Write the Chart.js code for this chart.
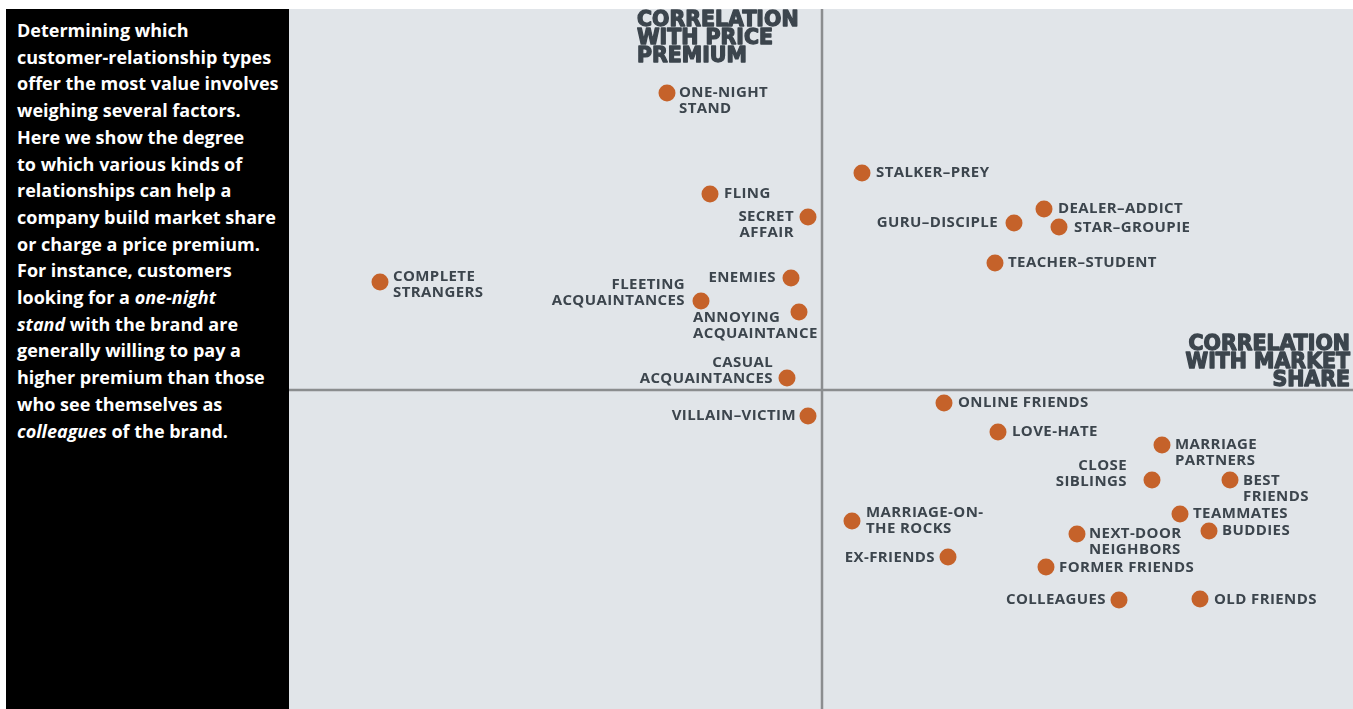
<!DOCTYPE html>
<html>
<head>
<meta charset="utf-8">
<script src="https://cdn.jsdelivr.net/npm/chart.js@4.4.1/dist/chart.umd.min.js"></script>
<style>
    html, body { margin: 0; padding: 0; background: #ffffff; }
    body { width: 1353px; height: 709px; position: relative; overflow: hidden; }
    .intro {
        position: absolute; left: 6px; top: 9px; width: 283px; height: 700px;
        background: #000000; color: #ffffff;
        font-family: "Open Sans", "Noto Sans", sans-serif; font-weight: 700;
        font-size: 18px; line-height: 26.7px;
        box-sizing: border-box; padding: 8px 0 0 11px;
        white-space: nowrap;
    }
    .chart-box {
        position: absolute; left: 289px; top: 9px; width: 1064px; height: 700px;
        background: #e1e5e9;
    }
</style>
</head>
<body>
<div class="intro">
    Determining which<br>
    customer-relationship types<br>
    offer the most value involves<br>
    weighing several factors.<br>
    Here we show the degree<br>
    to which various kinds of<br>
    relationships can help a<br>
    company build market share<br>
    or charge a price premium.<br>
    For instance, customers<br>
    looking for a <i>one-night</i><br>
    <i>stand</i> with the brand are<br>
    generally willing to pay a<br>
    higher premium than those<br>
    who see themselves as<br>
    <i>colleagues</i> of the brand.
</div>
<div class="chart-box"><canvas id="quadrant"></canvas></div>

<script>
// relationship types
const relationships = [
    "ONE-NIGHT\nSTAND", "STALKER–PREY", "FLING", "SECRET\nAFFAIR",
    "DEALER–ADDICT", "GURU–DISCIPLE", "STAR–GROUPIE", "TEACHER–STUDENT",
    "COMPLETE\nSTRANGERS", "ENEMIES", "FLEETING\nACQUAINTANCES", "ANNOYING\nACQUAINTANCE",
    "CASUAL\nACQUAINTANCES", "VILLAIN–VICTIM", "ONLINE FRIENDS", "LOVE-HATE",
    "MARRIAGE\nPARTNERS", "CLOSE\nSIBLINGS", "BEST\nFRIENDS", "TEAMMATES",
    "BUDDIES", "MARRIAGE-ON-\nTHE ROCKS", "NEXT-DOOR\nNEIGHBORS", "EX-FRIENDS",
    "FORMER FRIENDS", "COLLEAGUES", "OLD FRIENDS"
];

// correlation with market share (x)
const marketShare = [
    -1.55, 0.40, -1.12, -0.14,
    2.22, 1.92, 2.37, 1.73,
    -4.42, -0.31, -1.21, -0.23,
    -0.35, -0.14, 1.22, 1.76,
    3.40, 3.30, 4.08, 3.58,
    3.87, 0.30, 2.55, 1.26,
    2.24, 2.97, 3.78
];

// correlation with price premium (y)
const pricePremium = [
    2.97, 2.17, 1.96, 1.73,
    1.81, 1.67, 1.63, 1.27,
    1.08, 1.12, 0.89, 0.78,
    0.12, -0.26, -0.13, -0.42,
    -0.55, -0.90, -0.90, -1.24,
    -1.41, -1.31, -1.44, -1.67,
    -1.77, -2.10, -2.09
];

// axis ranges
const xRange = [-5.33, 5.31];
const yRange = [-3.19, 3.81];

// axis titles
const yTitle = ["CORRELATION", "WITH PRICE", "PREMIUM"];
const xTitle = ["CORRELATION", "WITH MARKET", "SHARE"];

//..label placement: [align, dx, dy of first line]
const labelPlacement = {
    "ONE-NIGHT\nSTAND": ["left", 12, 0],
    "STALKER–PREY": ["left", 14, 0],
    "FLING": ["left", 14, 0],
    "SECRET\nAFFAIR": ["right", -14, 0],
    "DEALER–ADDICT": ["left", 14, 0],
    "GURU–DISCIPLE": ["right", -16, 0],
    "STAR–GROUPIE": ["left", 15, 1],
    "TEACHER–STUDENT": ["left", 13, 0],
    "COMPLETE\nSTRANGERS": ["left", 13, -5],
    "ENEMIES": ["right", -15, 0],
    "FLEETING\nACQUAINTANCES": ["right", -16, -16],
    "ANNOYING\nACQUAINTANCE": ["left", -106, 6],
    "CASUAL\nACQUAINTANCES": ["right", -14, -15],
    "VILLAIN–VICTIM": ["right", -12, 0],
    "ONLINE FRIENDS": ["left", 14, 0],
    "LOVE-HATE": ["left", 14, 0],
    "MARRIAGE\nPARTNERS": ["left", 13, 0],
    "CLOSE\nSIBLINGS": ["right", -25, -14],
    "BEST\nFRIENDS": ["left", 13, 1],
    "TEAMMATES": ["left", 13, 0],
    "BUDDIES": ["left", 13, 0],
    "MARRIAGE-ON-\nTHE ROCKS": ["left", 14, -8],
    "NEXT-DOOR\nNEIGHBORS": ["left", 12, 0],
    "EX-FRIENDS": ["right", -13, 1],
    "FORMER FRIENDS": ["left", 13, 1],
    "COLLEAGUES": ["right", -13, 0],
    "OLD FRIENDS": ["left", 14, 1]
};

const textColor = "#3c454d";
const dotColor = "#c5622a";
const axisColor = "#8b8d8f";

// quadrant axes under the dots
const quadrantLines = {
    id: 'quadrantLines',
    beforeDatasetsDraw(chart) {
        const { ctx, chartArea, scales } = chart;
        const x0 = scales.x.getPixelForValue(0);
        const y0 = scales.y.getPixelForValue(0);
        ctx.save();
        ctx.strokeStyle = axisColor;
        ctx.lineWidth = 2.5;
        ctx.beginPath();
        ctx.moveTo(x0, chartArea.top);
        ctx.lineTo(x0, chartArea.bottom);
        ctx.moveTo(chartArea.left, y0);
        ctx.lineTo(chartArea.right, y0);
        ctx.stroke();
        ctx.restore();
    }
};

// point labels and axis titles
const pointLabels = {
    id: 'pointLabels',
    afterDatasetsDraw(chart) {
        const { ctx, chartArea, scales } = chart;
        const meta = chart.getDatasetMeta(0);
        ctx.save();
        ctx.fillStyle = textColor;
        ctx.strokeStyle = textColor;
        ctx.font = "700 15px 'Open Sans', sans-serif";
        ctx.textBaseline = "middle";
        ctx.letterSpacing = "0.4px";
        meta.data.forEach((pt, i) => {
            const name = relationships[i];
            const [align, dx, dy] = labelPlacement[name];
            ctx.textAlign = align;
            name.split("\n").forEach((line, j) => {
                ctx.fillText(line, pt.x + dx, pt.y + dy + j * 16);
            });
        });

        // axis titles, stroked a little to look heavier
        ctx.font = "700 20.5px 'DejaVu Sans', sans-serif";
        ctx.letterSpacing = "0px";
        ctx.lineWidth = 1.3;
        ctx.lineJoin = "round";
        ctx.textAlign = "left";
        const tx = scales.x.getPixelForValue(-1.85);
        yTitle.forEach((line, j) => {
            const y = chartArea.top + 12 + j * 18;
            ctx.fillText(line, tx, y);
            ctx.strokeText(line, tx, y);
        });
        ctx.textAlign = "right";
        const ty = scales.y.getPixelForValue(0);
        xTitle.forEach((line, j) => {
            const y = ty - 45 + j * 18;
            ctx.fillText(line, chartArea.right - 3, y);
            ctx.strokeText(line, chartArea.right - 3, y);
        });
        ctx.restore();
    }
};

function buildChart() {
    const ctx = document.getElementById('quadrant');
    const points = marketShare.map((x, i) => ({ x: x, y: pricePremium[i] }));

    new Chart(ctx, {
        type: 'scatter',
        data: {
            datasets: [{
                label: 'Relationships',
                data: points,
                backgroundColor: dotColor,
                borderColor: dotColor,
                borderWidth: 0,
                pointRadius: 8.5,
                pointHoverRadius: 8.5
            }]
        },
        options: {
            responsive: true,
            maintainAspectRatio: false,
            animation: false,
            layout: { padding: 0, autoPadding: false },
            scales: {
                x: { type: 'linear', min: xRange[0], max: xRange[1], display: false },
                y: { type: 'linear', min: yRange[0], max: yRange[1], display: false }
            },
            plugins: {
                legend: { display: false },
                tooltip: { enabled: false }
            }
        },
        plugins: [quadrantLines, pointLabels]
    });
}

document.addEventListener('DOMContentLoaded', buildChart);
</script>
</body>
</html>
